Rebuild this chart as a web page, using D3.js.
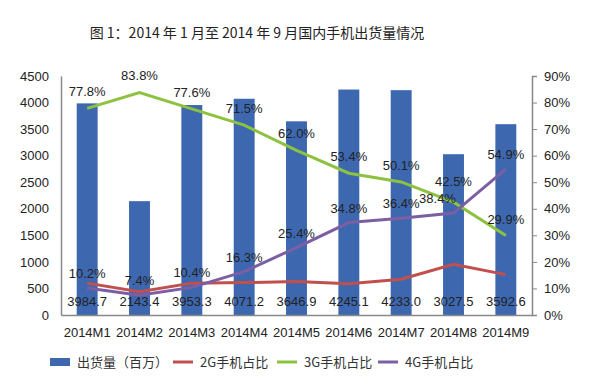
<!DOCTYPE html>
<html>
<head>
<meta charset="utf-8">
<script src="https://cdn.jsdelivr.net/npm/d3@7"></script>
<style>
  body { margin: 0; background: #fff; }
  text { font-family: "Liberation Sans", "Noto Sans CJK SC", sans-serif; fill: #222; }
</style>
</head>
<body>
<svg width="600" height="381"></svg>
<script>
const months = ["2014M1","2014M2","2014M3","2014M4","2014M5","2014M6","2014M7","2014M8","2014M9"];
const shipments = [3984.7, 2143.4, 3953.3, 4071.2, 3646.9, 4245.1, 4233.0, 3027.5, 3592.6];
const share2g = [12.0, 8.8, 12.0, 12.2, 12.6, 11.8, 13.5, 19.1, 15.2];
const share3g = [77.8, 83.8, 77.6, 71.5, 62.0, 53.4, 50.1, 42.5, 29.9];
const share4g = [10.2, 7.4, 10.4, 16.3, 25.4, 34.8, 36.4, 38.4, 54.9];
const leftTicks = [0,500,1000,1500,2000,2500,3000,3500,4000,4500];
const rightTicks = [0,10,20,30,40,50,60,70,80,90];

const c_bar = "#3d68b0", c2 = "#c0504d", c3 = "#8dc241", c4 = "#7b5ea3";

const svg = d3.select("svg");
const L = 61, R = 532, T = 76, B = 315;

const x = d3.scaleBand().domain(months).range([L, R]).paddingInner(0.6).paddingOuter(0.3);
const yl = d3.scaleLinear().domain([0, 4500]).range([B, T]);
const yr = d3.scaleLinear().domain([0, 90]).range([B, T]);
const cx = m => x(m) + x.bandwidth() / 2;

// title
svg.append("text")
   .attr("x", 257).attr("y", 38)
   .attr("text-anchor", "middle")
   .style("font-family", "'Noto Sans CJK SC', sans-serif")
   .style("font-size", "14px")
   .text("图 1：2014 年 1 月至 2014 年 9 月国内手机出货量情况");

// bars
svg.selectAll("rect.bar").data(shipments).enter().append("rect")
   .attr("class", "bar")
   .attr("x", (d, i) => x(months[i]))
   .attr("width", x.bandwidth())
   .attr("y", d => yl(d))
   .attr("height", d => B - yl(d))
   .style("fill", c_bar);

// axes
const la = svg.append("g").attr("transform", `translate(${L},0)`)
   .call(d3.axisLeft(yl).tickValues(leftTicks).tickSize(0).tickPadding(12).tickFormat(d3.format("d")));
la.select(".domain").attr("stroke", "#888").attr("stroke-width", 1.5);
la.selectAll("text").style("font-size", "13px");

const ra = svg.append("g").attr("transform", `translate(${R},0)`)
   .call(d3.axisRight(yr).tickValues(rightTicks).tickSize(5).tickPadding(7).tickFormat(d => d + "%"));
ra.select(".domain").attr("stroke", "#888").attr("stroke-width", 1.5);
ra.selectAll("line").attr("stroke", "#888");
ra.selectAll("text").style("font-size", "13px");

const ba = svg.append("g").attr("transform", `translate(0,${B})`)
   .call(d3.axisBottom(x).tickSize(0).tickPadding(13));
ba.select(".domain").attr("stroke", "#888").attr("stroke-width", 1.5);
ba.selectAll("text").style("font-size", "13px");

// lines
const line = d3.line().x((d, i) => cx(months[i])).y(d => yr(d));
[[share2g, c2], [share3g, c3], [share4g, c4]].forEach(([s, c]) => {
  svg.append("path").datum(s)
     .attr("d", line)
     .style("fill", "none")
     .style("stroke", c)
     .style("stroke-width", 3);
});

// labels
svg.selectAll("text.val").data(shipments).enter().append("text")
   .attr("class", "val")
   .attr("x", (d, i) => cx(months[i]))
   .attr("y", B - 9)
   .attr("text-anchor", "middle")
   .style("font-size", "13px")
   .text(d => d.toFixed(1));

[[share3g, 12], [share4g, 10]].forEach(([s, off]) => {
  svg.selectAll(null).data(s).enter().append("text")
     .attr("x", (d, i) => cx(months[i]) - (s === share4g && i === 7 ? 16 : 0))
     .attr("y", (d, i) => yr(d) - (s === share3g && i === 7 ? 16 : off))
     .attr("text-anchor", "middle")
     .style("font-size", "13px")
     .text(d => d.toFixed(1) + "%");
});

// legend
const legend = [
  {name: "出货量（百万）", c: c_bar, bar: true, x: 50},
  {name: "2G手机占比", c: c2, x: 173},
  {name: "3G手机占比", c: c3, x: 277},
  {name: "4G手机占比", c: c4, x: 378}
];
const lg = svg.append("g").attr("transform", "translate(0,362)");
legend.forEach(d => {
  if (d.bar) {
    lg.append("rect").attr("x", d.x).attr("y", -4).attr("width", 20).attr("height", 8).style("fill", d.c);
  } else {
    lg.append("line").attr("x1", d.x).attr("x2", d.x + 20).attr("y1", 0).attr("y2", 0)
      .style("stroke", d.c).style("stroke-width", 3);
  }
  lg.append("text").attr("x", d.x + 27).attr("y", 5)
    .style("font-family", "'Noto Sans CJK SC', sans-serif")
    .style("font-size", "13px").style("fill", "#333")
    .text(d.name);
});
</script>
</body>
</html>
